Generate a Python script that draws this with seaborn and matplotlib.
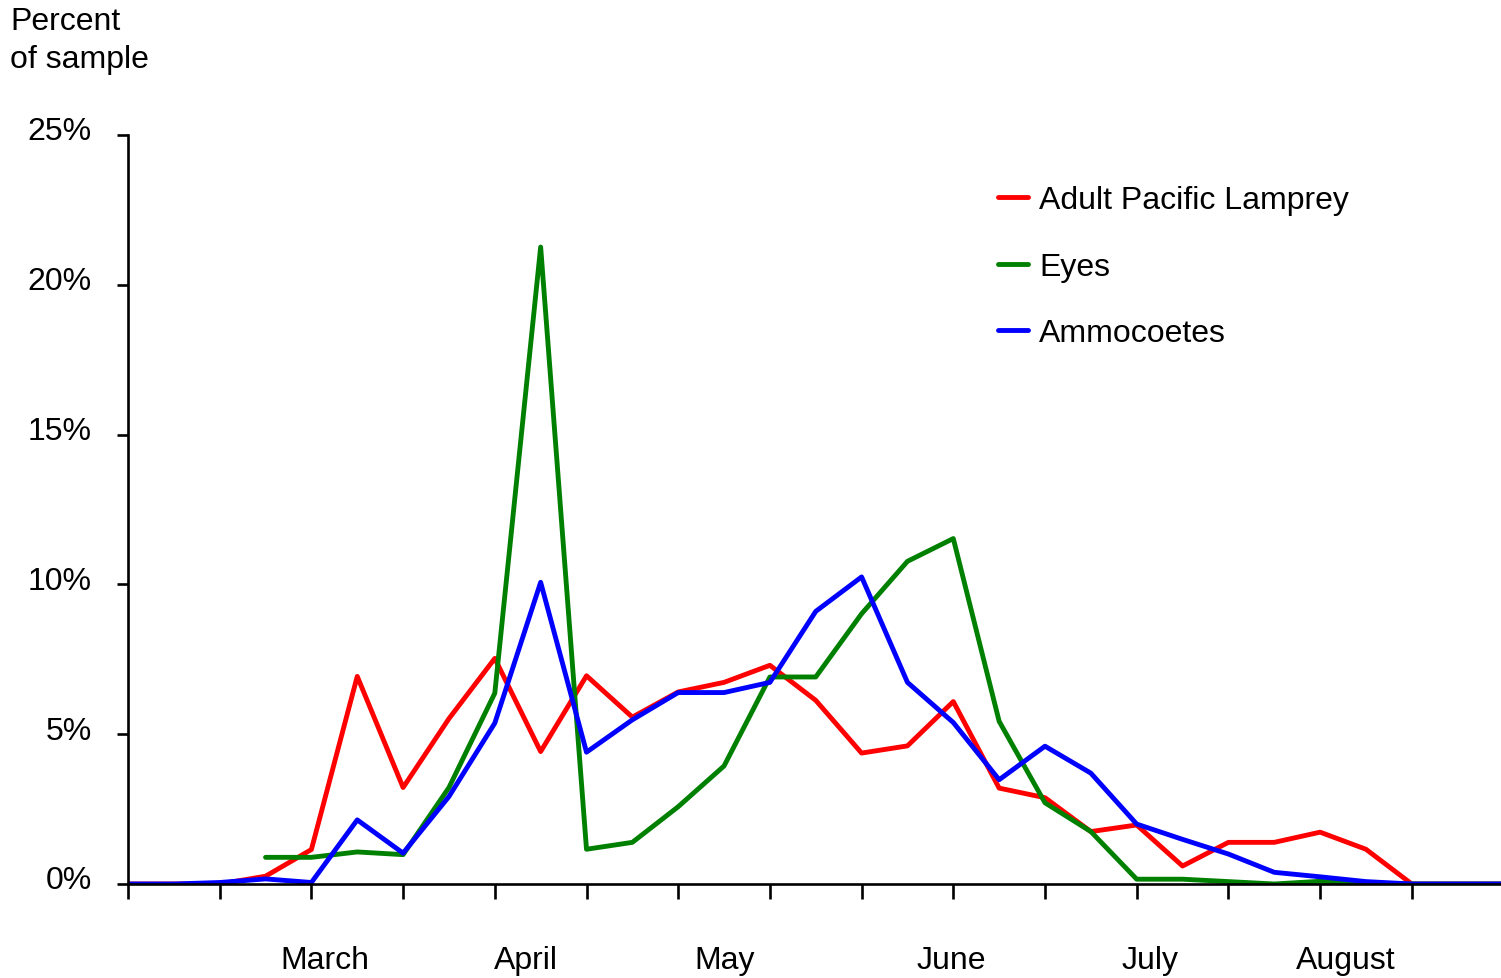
import numpy as np
import pandas as pd
import matplotlib
matplotlib.use("Agg")
import matplotlib.pyplot as plt
import matplotlib.transforms as mtransforms
import seaborn as sns

# ---- data (index = half-month step, 0..30) ----
step = list(range(31))
adult = [0.0, 0.0, 0.0, 0.26, 1.15, 6.93, 3.22, 5.52, 7.53, 4.42, 6.95,
         5.57, 6.41, 6.73, 7.30, 6.13, 4.37, 4.61, 6.09, 3.20, 2.88,
         1.75, 1.97, 0.60, 1.39, 1.39, 1.73, 1.16, 0.0, 0.0, 0.0]
eyes = [np.nan, np.nan, np.nan, 0.89, 0.89, 1.07, 0.98, 3.22, 6.37, 21.26, 1.16,
        1.39, 2.58, 3.94, 6.91, 6.91, 9.02, 10.77, 11.53, 5.43, 2.71,
        1.75, 0.16, 0.16, 0.08, 0.0, 0.09, 0.0, 0.0, 0.0, 0.0]
ammo = [0.0, 0.0, 0.05, 0.17, 0.05, 2.14, 1.03, 2.92, 5.37, 10.07, 4.40,
        5.48, 6.39, 6.39, 6.73, 9.10, 10.25, 6.73, 5.39, 3.48, 4.60,
        3.70, 2.00, 1.49, 1.00, 0.39, 0.24, 0.08, 0.0, 0.0, 0.0]
series_names = ["Adult Pacific Lamprey", "Eyes", "Ammocoetes"]
series_colors = ["#FF0000", "#008000", "#0000FF"]
month_labels = ["March", "April", "May", "June", "July", "August"]
month_pos = [4.29, 8.69, 13.01, 17.95, 22.29, 26.55]
y_ticks = [0, 5, 10, 15, 20, 25]
y_ticklabels = ["0%", "5%", "10%", "15%", "20%", "25%"]

df = pd.concat([
    pd.DataFrame({"step": step, "value": adult, "series": series_names[0]}),
    pd.DataFrame({"step": step, "value": eyes, "series": series_names[1]}),
    pd.DataFrame({"step": step, "value": ammo, "series": series_names[2]}),
]).dropna()

sns.set_style("white")
plt.rcParams["font.family"] = ["Liberation Sans", "DejaVu Sans"]
plt.rcParams["text.color"] = "black"
plt.rcParams["xtick.color"] = "black"
plt.rcParams["ytick.color"] = "black"
plt.rcParams["xtick.labelcolor"] = "black"
plt.rcParams["ytick.labelcolor"] = "black"

FS = 23
LW = 3.5
fig = plt.figure(figsize=(15.01, 9.79), dpi=100)
ax = fig.add_axes([128 / 1501, 94 / 979, 1375.5 / 1501, (885 - 136) / 979])

sns.lineplot(data=df, x="step", y="value", hue="series",
             hue_order=series_names, palette=series_colors,
             linewidth=LW, sort=False, estimator=None, ax=ax, legend=True)

ax.set_xlim(0, 30)
ax.set_ylim(0, 25)
ax.set_xlabel("")
ax.set_ylabel("")

for s in ["top", "right"]:
    ax.spines[s].set_visible(False)
for s in ["left", "bottom"]:
    ax.spines[s].set_linewidth(1.9)
    ax.spines[s].set_color("black")

ax.set_xticks(range(0, 29, 2))
ax.set_xticklabels([])
ax.set_xticks(month_pos, minor=True)
ax.set_xticklabels(month_labels, minor=True)
ax.tick_params(axis="x", which="major", direction="out", length=11, width=1.9,
               color="black", bottom=True)
ax.tick_params(axis="x", which="minor", length=0, pad=44, labelsize=FS,
               labelcolor="black")

ax.set_yticks(y_ticks)
ax.set_yticklabels(y_ticklabels)
ax.tick_params(axis="y", direction="out", length=8, width=1.9, color="black",
               left=True, pad=18, labelsize=FS, labelcolor="black")
offset = mtransforms.ScaledTranslation(0, 7 / 100, fig.dpi_scale_trans)
for lab in ax.get_yticklabels():
    lab.set_transform(lab.get_transform() + offset)

handles, labels = ax.get_legend_handles_labels()
if ax.get_legend() is not None:
    ax.get_legend().remove()
leg = fig.legend(handles, labels, loc="upper left",
                 bbox_to_anchor=(998 / 1501, 1 - 186 / 979),
                 frameon=False, fontsize=FS, handlelength=0.95,
                 handletextpad=0.33, labelspacing=1.15, borderpad=0,
                 borderaxespad=0)
for t in leg.get_texts():
    t.set_color("black")
for h in leg.legend_handles:
    h.set_linewidth(LW)

fig.text(10 / 1501, 1 - 7 / 979, "Percent\nof sample", ha="left", va="top",
         fontsize=FS, linespacing=1.36, color="black")

fig.savefig("out.png", dpi=100)
